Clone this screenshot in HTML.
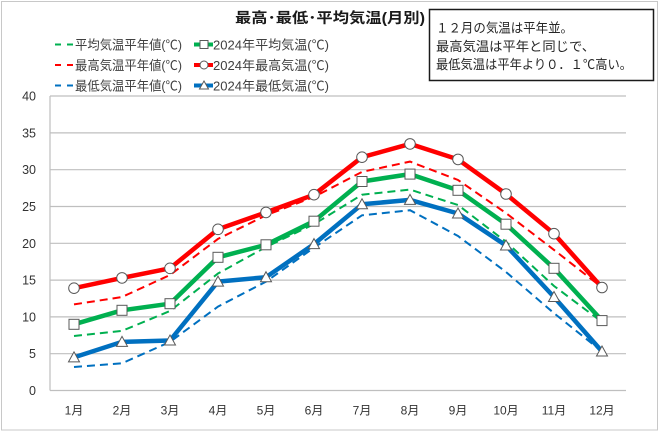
<!DOCTYPE html>
<html><head><meta charset="utf-8"><style>
html,body{margin:0;padding:0;background:#fff;}
svg{display:block;}
text{font-family:"Liberation Sans","Noto Sans CJK JP",sans-serif;}
</style></head><body>
<svg width="660" height="432" viewBox="0 0 660 432" xmlns="http://www.w3.org/2000/svg">
<rect x="0" y="0" width="660" height="432" fill="#fff"/>
<rect x="1.5" y="1.5" width="656" height="428.5" fill="none" stroke="#C8C8C8" stroke-width="1"/>
<!-- title -->
<text x="235" y="19" font-size="14.5" font-weight="bold" fill="#1a1a1a" dominant-baseline="central" textLength="190" lengthAdjust="spacingAndGlyphs">最高･最低･平均気温(月別)</text>
<!-- text box -->
<rect x="429.5" y="9.5" width="224" height="71" fill="#fff" stroke="#1a1a1a" stroke-width="1.5"/>
<text x="436" y="28" font-size="13" fill="#262626" dominant-baseline="central" textLength="137" lengthAdjust="spacingAndGlyphs">１２月の気温は平年並。</text>
<text x="436" y="46.5" font-size="13" fill="#262626" dominant-baseline="central" textLength="159" lengthAdjust="spacingAndGlyphs">最高気温は平年と同じで、</text>
<text x="436" y="64.5" font-size="13" fill="#262626" dominant-baseline="central" textLength="196" lengthAdjust="spacingAndGlyphs">最低気温は平年より０．１℃高い。</text>
<!-- legend -->
<g stroke-width="2">
<line x1="55" y1="44.5" x2="61" y2="44.5" stroke="#00B050"/><line x1="67" y1="44.5" x2="73" y2="44.5" stroke="#00B050"/>
<line x1="55" y1="65" x2="61" y2="65" stroke="#FF0000"/><line x1="67" y1="65" x2="73" y2="65" stroke="#FF0000"/>
<line x1="55" y1="85.5" x2="61" y2="85.5" stroke="#0070C0"/><line x1="67" y1="85.5" x2="73" y2="85.5" stroke="#0070C0"/>
</g>
<g stroke-width="4">
<line x1="194" y1="44.5" x2="213" y2="44.5" stroke="#00B050"/>
<line x1="194" y1="65" x2="213" y2="65" stroke="#FF0000"/>
<line x1="194" y1="85.5" x2="213" y2="85.5" stroke="#0070C0"/>
</g>
<g fill="#fff" stroke="#595959" stroke-width="1">
<rect x="200" y="40.5" width="8" height="8"/>
<circle cx="204" cy="65" r="4"/>
<polygon points="204,81 208.5,89 199.5,89"/>
</g>
<g font-size="13" fill="#404040">
<text x="75" y="45" dominant-baseline="central" textLength="107" lengthAdjust="spacingAndGlyphs">平均気温平年値(℃)</text>
<text x="75" y="65.5" dominant-baseline="central" textLength="107" lengthAdjust="spacingAndGlyphs">最高気温平年値(℃)</text>
<text x="75" y="86" dominant-baseline="central" textLength="107" lengthAdjust="spacingAndGlyphs">最低気温平年値(℃)</text>
<text x="213" y="45" dominant-baseline="central" textLength="116" lengthAdjust="spacingAndGlyphs">2024年平均気温(℃)</text>
<text x="213" y="65.5" dominant-baseline="central" textLength="116" lengthAdjust="spacingAndGlyphs">2024年最高気温(℃)</text>
<text x="213" y="86" dominant-baseline="central" textLength="116" lengthAdjust="spacingAndGlyphs">2024年最低気温(℃)</text>
</g>
<!-- grid -->
<g stroke="#BFBFBF" stroke-width="1.2">
<line x1="50" y1="96" x2="626" y2="96"/>
<line x1="50" y1="132.9" x2="626" y2="132.9"/>
<line x1="50" y1="169.7" x2="626" y2="169.7"/>
<line x1="50" y1="206.5" x2="626" y2="206.5"/>
<line x1="50" y1="243.3" x2="626" y2="243.3"/>
<line x1="50" y1="280.1" x2="626" y2="280.1"/>
<line x1="50" y1="316.9" x2="626" y2="316.9"/>
<line x1="50" y1="353.7" x2="626" y2="353.7"/>
<line x1="50" y1="390.5" x2="626" y2="390.5"/>
<line x1="50" y1="96" x2="50" y2="390.5"/>
</g>
<!-- y labels -->
<g font-size="12.5" fill="#333" text-anchor="end">
<text x="36" y="100.5">40</text>
<text x="36" y="137.4">35</text>
<text x="36" y="174.2">30</text>
<text x="36" y="211">25</text>
<text x="36" y="247.8">20</text>
<text x="36" y="284.6">15</text>
<text x="36" y="321.4">10</text>
<text x="36" y="358.2">5</text>
<text x="36" y="395">0</text>
</g>
<!-- x labels -->
<g font-size="12" fill="#333" text-anchor="middle">
<text x="74" y="414.5">1月</text>
<text x="122" y="414.5">2月</text>
<text x="170" y="414.5">3月</text>
<text x="218" y="414.5">4月</text>
<text x="266" y="414.5">5月</text>
<text x="314" y="414.5">6月</text>
<text x="362" y="414.5">7月</text>
<text x="410" y="414.5">8月</text>
<text x="458" y="414.5">9月</text>
<text x="506" y="414.5">10月</text>
<text x="554" y="414.5">11月</text>
<text x="602" y="414.5">12月</text>
</g>
<!-- dashed normals -->
<g fill="none" stroke-width="2" stroke-dasharray="8,5">
<polyline stroke="#FF0000" points="74,304.4 122,297 170,275 218,238.9 266,215.3 314,196.9 362,171.9 410,161.6 458,180 506,213.1 554,249.9 602,287.5"/>
<polyline stroke="#00B050" points="74,336 122,330.9 170,311 218,273.5 266,247 314,224.2 362,194.7 410,189.6 458,205 506,241.8 554,286 602,322"/>
<polyline stroke="#0070C0" points="74,367 122,363.3 170,341.9 218,306.6 266,281.6 314,247.7 362,215.3 410,210.2 458,236 506,272 554,313.2 602,351.5"/>
</g>
<!-- 2024 solid -->
<g fill="none" stroke-width="4.5" stroke-linejoin="round">
<polyline stroke="#FF0000" points="74,288.2 122,277.9 170,268.3 218,229.3 266,212.4 314,194.7 362,157.2 410,143.9 458,159.4 506,194 554,233.7 602,287.5"/>
<polyline stroke="#00B050" points="74,324.3 122,310.3 170,303.7 218,257.3 266,244.8 314,221.2 362,181.5 410,174.1 458,190.3 506,224.2 554,268.3 602,320.6"/>
<polyline stroke="#0070C0" points="74,357.4 122,341.9 170,340.5 218,281.6 266,277.2 314,244.1 362,204.3 410,199.9 458,213.5 506,245.5 554,297 602,351.5"/>
</g>
<!-- markers -->
<g fill="#fff" stroke="#595959" stroke-width="1">
<circle cx="74" cy="288.2" r="5.3"/><circle cx="122" cy="277.9" r="5.3"/><circle cx="170" cy="268.3" r="5.3"/><circle cx="218" cy="229.3" r="5.3"/><circle cx="266" cy="212.4" r="5.3"/><circle cx="314" cy="194.7" r="5.3"/><circle cx="362" cy="157.2" r="5.3"/><circle cx="410" cy="143.9" r="5.3"/><circle cx="458" cy="159.4" r="5.3"/><circle cx="506" cy="194" r="5.3"/><circle cx="554" cy="233.7" r="5.3"/><circle cx="602" cy="287.5" r="5.3"/>
<rect x="69" y="319.3" width="10" height="10"/><rect x="117" y="305.3" width="10" height="10"/><rect x="165" y="298.7" width="10" height="10"/><rect x="213" y="252.3" width="10" height="10"/><rect x="261" y="239.8" width="10" height="10"/><rect x="309" y="216.2" width="10" height="10"/><rect x="357" y="176.5" width="10" height="10"/><rect x="405" y="169.1" width="10" height="10"/><rect x="453" y="185.3" width="10" height="10"/><rect x="501" y="219.2" width="10" height="10"/><rect x="549" y="263.3" width="10" height="10"/><rect x="597" y="315.6" width="10" height="10"/>
<polygon points="74,351.9 79.5,361.9 68.5,361.9"/><polygon points="122,336.4 127.5,346.4 116.5,346.4"/><polygon points="170,335 175.5,345 164.5,345"/><polygon points="218,276.1 223.5,286.1 212.5,286.1"/><polygon points="266,271.7 271.5,281.7 260.5,281.7"/><polygon points="314,238.6 319.5,248.6 308.5,248.6"/><polygon points="362,198.8 367.5,208.8 356.5,208.8"/><polygon points="410,194.4 415.5,204.4 404.5,204.4"/><polygon points="458,208 463.5,218 452.5,218"/><polygon points="506,240 511.5,250 500.5,250"/><polygon points="554,291.5 559.5,301.5 548.5,301.5"/><polygon points="602,346 607.5,356 596.5,356"/>
</g>
</svg>
</body></html>
